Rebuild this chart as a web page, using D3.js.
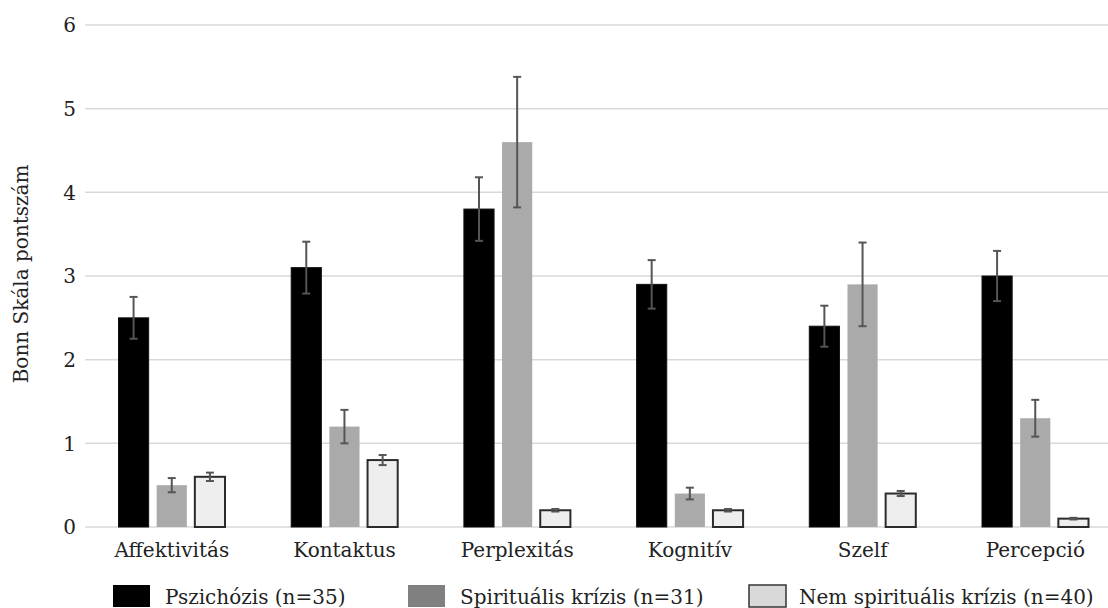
<!DOCTYPE html>
<html>
<head>
<meta charset="utf-8">
<script src="https://cdn.jsdelivr.net/npm/d3@7"></script>
<style>
  html, body { margin: 0; padding: 0; background: #fff; }
  svg { display: block; font-family: "DejaVu Serif", serif; }
</style>
</head>
<body>
<div id="chart"></div>
<script>
var categories = ["Affektivitás", "Kontaktus", "Perplexitás", "Kognitív", "Szelf", "Percepció"];
var seriesNames = ["Pszichózis (n=35)", "Spirituális krízis (n=31)", "Nem spirituális krízis (n=40)"];

var psychosis = [2.5, 3.1, 3.8, 2.9, 2.4, 3.0];
var psychosisErr = [0.25, 0.31, 0.38, 0.29, 0.245, 0.3];
var spiritual = [0.5, 1.2, 4.6, 0.4, 2.9, 1.3];
var spiritualErr = [0.085, 0.2, 0.78, 0.07, 0.5, 0.22];
var nonSpiritual = [0.6, 0.8, 0.2, 0.2, 0.4, 0.1];
var nonSpiritualErr = [0.05, 0.06, 0.015, 0.015, 0.03, 0.01];

var yTicks = [0, 1, 2, 3, 4, 5, 6];

var width = 1108, height = 608;

// bar styles per series, legend swatch differs a bit from the bars (as in the original)
var barFill = ["#000000", "#aaaaaa", "#eeeeee"];
var barStroke = ["#111111", "none", "#2b2b2b"];
var swatchFill = ["#000000", "#808080", "#d9d9d9"];
var swatchStroke = ["none", "none", "#333333"];
var legendX = [113, 408, 749];

var values = [psychosis, spiritual, nonSpiritual];
var errors = [psychosisErr, spiritualErr, nonSpiritualErr];

var rows = [];
categories.forEach(function(c, i) {
  values.forEach(function(v, s) {
    rows.push({ cat: c, series: s, value: v[i], err: errors[s][i] });
  });
});

var svg = d3.select("#chart").append("svg")
  .attr("width", width)
  .attr("height", height);

var x = d3.scaleBand()
  .domain(categories)
  .range([85.5, 1121.7])
  .paddingInner(0)
  .paddingOuter(0);

var xInner = d3.scaleBand()
  .domain(d3.range(values.length))
  .range([33, 33 + 106.5])
  .paddingInner(0.21)
  .paddingOuter(0);

var y = d3.scaleLinear()
  .domain([0, 6])
  .range([527, 25]);

// grid
svg.append("g").selectAll("line")
  .data(yTicks)
  .enter()
  .append("line")
  .attr("x1", 85)
  .attr("x2", width)
  .attr("y1", function(d) { return y(d); })
  .attr("y2", function(d) { return y(d); })
  .attr("stroke", "#d9d9d9")
  .attr("stroke-width", 1.5);

// y tick labels
svg.append("g").selectAll("text")
  .data(yTicks)
  .enter()
  .append("text")
  .attr("x", 76)
  .attr("y", function(d) { return y(d); })
  .attr("dy", "0.36em")
  .attr("text-anchor", "end")
  .attr("font-size", 20)
  .attr("fill", "#222")
  .text(function(d) { return d; });

// y title
svg.append("text")
  .attr("transform", "translate(28,274) rotate(-90)")
  .attr("text-anchor", "middle")
  .attr("font-size", 20)
  .attr("fill", "#222")
  .text("Bonn Skála pontszám");

// bars
var bw = xInner.bandwidth();
svg.append("g").selectAll("rect")
  .data(rows)
  .enter()
  .append("rect")
  .attr("x", function(d) { return x(d.cat) + xInner(d.series); })
  .attr("y", function(d) { return y(d.value); })
  .attr("width", bw)
  .attr("height", function(d) { return y(0) - y(d.value); })
  .attr("fill", function(d) { return barFill[d.series]; })
  .attr("stroke", function(d) { return barStroke[d.series]; })
  .attr("stroke-width", function(d) { return d.series == 2 ? 2 : 1; });

// error bars
var errG = svg.append("g")
  .attr("stroke", "#555")
  .attr("stroke-width", 2);
rows.forEach(function(d) {
  var cx = x(d.cat) + xInner(d.series) + bw / 2;
  var top = y(d.value + d.err), bot = y(d.value - d.err);
  errG.append("line").attr("x1", cx).attr("x2", cx).attr("y1", top).attr("y2", bot);
  errG.append("line").attr("x1", cx - 4).attr("x2", cx + 4).attr("y1", top).attr("y2", top);
  errG.append("line").attr("x1", cx - 4).attr("x2", cx + 4).attr("y1", bot).attr("y2", bot);
});

// category labels
svg.append("g").selectAll("text")
  .data(categories)
  .enter()
  .append("text")
  .attr("x", function(d) { return x(d) + x.bandwidth() / 2; })
  .attr("y", 557)
  .attr("text-anchor", "middle")
  .attr("font-size", 20)
  .attr("fill", "#222")
  .text(function(d) { return d; });

// legend
var legend = svg.append("g").selectAll("g")
  .data(seriesNames)
  .enter()
  .append("g")
  .attr("transform", function(d, i) { return "translate(" + legendX[i] + ",0)"; });
legend.append("rect")
  .attr("x", 0)
  .attr("y", 585)
  .attr("width", 37)
  .attr("height", 22)
  .attr("fill", function(d, i) { return swatchFill[i]; })
  .attr("stroke", function(d, i) { return swatchStroke[i]; })
  .attr("stroke-width", 1.5);
legend.append("text")
  .attr("x", function(d, i) { return i == 2 ? 50 : 52; })
  .attr("y", 604)
  .attr("font-size", 20)
  .attr("fill", "#222")
  .text(function(d) { return d; });
</script>
</body>
</html>
